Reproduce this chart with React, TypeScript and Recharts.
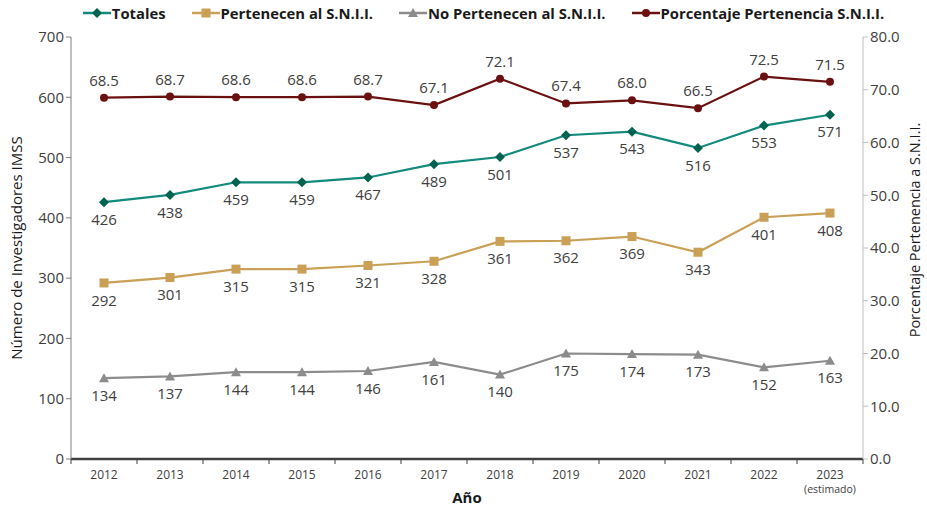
import { LineChart, Line, XAxis, YAxis, Legend, LabelList, Label } from 'recharts';

const years = ['2012', '2013', '2014', '2015', '2016', '2017', '2018', '2019', '2020', '2021', '2022', '2023'];
const totales = [426, 438, 459, 459, 467, 489, 501, 537, 543, 516, 553, 571];
const pertenecen = [292, 301, 315, 315, 321, 328, 361, 362, 369, 343, 401, 408];
const noPertenecen = [134, 137, 144, 144, 146, 161, 140, 175, 174, 173, 152, 163];
const porcentaje = [68.5, 68.7, 68.6, 68.6, 68.7, 67.1, 72.1, 67.4, 68.0, 66.5, 72.5, 71.5];
const leftTicks = [0, 100, 200, 300, 400, 500, 600, 700];
const rightTicks = [0, 10, 20, 30, 40, 50, 60, 70, 80];

const data = years.map((year, i) => ({
    year,
    totales: totales[i],
    pertenecen: pertenecen[i],
    noPertenecen: noPertenecen[i],
    porcentaje: porcentaje[i],
}));

const FONT = '"Open Sans", sans-serif';
const TEXT = '#404040';

const C_TOT_LINE = '#128a7c';
const C_TOT_DOT = '#00634f';
const C_PER = '#c9a056';
const C_NO = '#8c8c8c';
const C_POR = '#6b1010';

const Diamond = (props: any) => {
    const { cx, cy, fill } = props;
    if (cx == null || cy == null) return null;
    const r = 5;
    return <polygon points={`${cx},${cy - r} ${cx + r},${cy} ${cx},${cy + r} ${cx - r},${cy}`} fill={fill} />;
};
const Square = (props: any) => {
    const { cx, cy, fill } = props;
    if (cx == null || cy == null) return null;
    return <rect x={cx - 4.5} y={cy - 4.5} width={9} height={9} fill={fill} />;
};
const Triangle = (props: any) => {
    const { cx, cy, fill } = props;
    if (cx == null || cy == null) return null;
    return <polygon points={`${cx},${cy - 5} ${cx + 5},${cy + 4} ${cx - 5},${cy + 4}`} fill={fill} />;
};
const Circle = (props: any) => {
    const { cx, cy, fill } = props;
    if (cx == null || cy == null) return null;
    return <circle cx={cx} cy={cy} r={4} fill={fill} />;
};

const YearTick = (props: any) => {
    const { x, y, payload, index } = props;
    const half = payload.offset || 33;
    const last = index === years.length - 1;
    return (
        <g>
            <line x1={x - half} x2={x - half} y1={y - 8} y2={y - 3} stroke={TEXT} strokeWidth={1} />
            {last && <line x1={x + half} x2={x + half} y1={y - 8} y2={y - 3} stroke={TEXT} strokeWidth={1} />}
            <text x={x} y={y + 12} textAnchor="middle" fontSize={12} fill={TEXT} fontFamily={FONT}>{payload.value}</text>
            {last && <text x={x} y={y + 26} textAnchor="middle" fontSize={10.5} fill={TEXT} fontFamily={FONT}>(estimado)</text>}
        </g>
    );
};

const legendItems = [
    { name: 'Totales', color: C_TOT_LINE, dot: C_TOT_DOT, shape: Diamond },
    { name: 'Pertenecen al S.N.I.I.', color: C_PER, dot: C_PER, shape: Square },
    { name: 'No Pertenecen al S.N.I.I.', color: C_NO, dot: C_NO, shape: Triangle },
    { name: 'Porcentaje Pertenencia S.N.I.I.', color: C_POR, dot: C_POR, shape: Circle },
];

const LegendContent = () => (
    <div style={{ display: 'flex', justifyContent: 'center', gap: 26, fontFamily: FONT, fontWeight: 700, fontSize: 14.8, color: '#1a1a1a', height: 20, alignItems: 'center', paddingLeft: 40 }}>
        {legendItems.map((it) => {
            const S = it.shape;
            return (
                <div key={it.name} style={{ display: 'flex', alignItems: 'center' }}>
                    <svg width={28} height={14} style={{ marginRight: 1 }}>
                        <line x1={0} x2={28} y1={7} y2={7} stroke={it.color} strokeWidth={2.5} />
                        <S cx={14} cy={7} fill={it.dot} />
                    </svg>
                    <span>{it.name}</span>
                </div>
            );
        })}
    </div>
);

const labelStyle = { fontSize: 15, fill: TEXT, fontFamily: FONT };

export default function App() {
    return (
        <div style={{ position: 'absolute', left: 0, top: 0, background: '#fff' }}>
            <LineChart width={927} height={508} data={data} margin={{ top: 17, right: 0, left: 0, bottom: 0 }}>
                <Legend verticalAlign="top" align="center" height={20} content={<LegendContent />} wrapperStyle={{ top: 3 }} />
                <XAxis
                    dataKey="year"
                    scale="band"
                    axisLine={{ stroke: TEXT, strokeWidth: 2.5 }}
                    tickLine={false}
                    tick={<YearTick />}
                    interval={0}
                    height={49}
                >
                    <Label value="Año" position="insideBottom" offset={5} style={{ fontSize: 15, fontWeight: 700, fill: '#1a1a1a', fontFamily: FONT }} />
                </XAxis>
                <YAxis
                    yAxisId="left"
                    width={71}
                    domain={[0, 700]}
                    ticks={leftTicks}
                    axisLine={{ stroke: '#7f7f7f' }}
                    tickLine={{ stroke: '#7f7f7f' }}
                    tickSize={5}
                    tick={{ fontSize: 15, fill: TEXT, fontFamily: FONT }}
                >
                    <Label value="Número de Investigadores IMSS" angle={-90} position="insideLeft" offset={17} style={{ textAnchor: 'middle', fontSize: 15, fill: '#1a1a1a', fontFamily: FONT }} />
                </YAxis>
                <YAxis
                    yAxisId="right"
                    orientation="right"
                    width={64}
                    domain={[0, 80]}
                    ticks={rightTicks}
                    tickFormatter={(v: number) => v.toFixed(1)}
                    axisLine={{ stroke: '#bfbfbf' }}
                    tickLine={{ stroke: '#bfbfbf' }}
                    tickSize={5}
                    tick={{ fontSize: 15, fill: TEXT, fontFamily: FONT }}
                >
                    <Label value="Porcentaje Pertenencia a S.N.I.I." angle={-90} position="insideRight" offset={12} dy={-18} style={{ textAnchor: 'middle', fontSize: 14.5, fill: '#1a1a1a', fontFamily: FONT }} />
                </YAxis>
                <Line yAxisId="left" dataKey="totales" stroke={C_TOT_LINE} strokeWidth={2.2} dot={<Diamond fill={C_TOT_DOT} />} isAnimationActive={false}>
                    <LabelList dataKey="totales" position="bottom" offset={12} style={labelStyle} />
                </Line>
                <Line yAxisId="left" dataKey="pertenecen" stroke={C_PER} strokeWidth={2.2} dot={<Square fill={C_PER} />} isAnimationActive={false}>
                    <LabelList dataKey="pertenecen" position="bottom" offset={12} style={labelStyle} />
                </Line>
                <Line yAxisId="left" dataKey="noPertenecen" stroke={C_NO} strokeWidth={2.2} dot={<Triangle fill={C_NO} />} isAnimationActive={false}>
                    <LabelList dataKey="noPertenecen" position="bottom" offset={12} style={labelStyle} />
                </Line>
                <Line yAxisId="right" dataKey="porcentaje" stroke={C_POR} strokeWidth={2.2} dot={<Circle fill={C_POR} />} isAnimationActive={false}>
                    <LabelList dataKey="porcentaje" position="top" offset={12} style={labelStyle} formatter={(v: any) => Number(v).toFixed(1)} />
                </Line>
            </LineChart>
        </div>
    );
}
